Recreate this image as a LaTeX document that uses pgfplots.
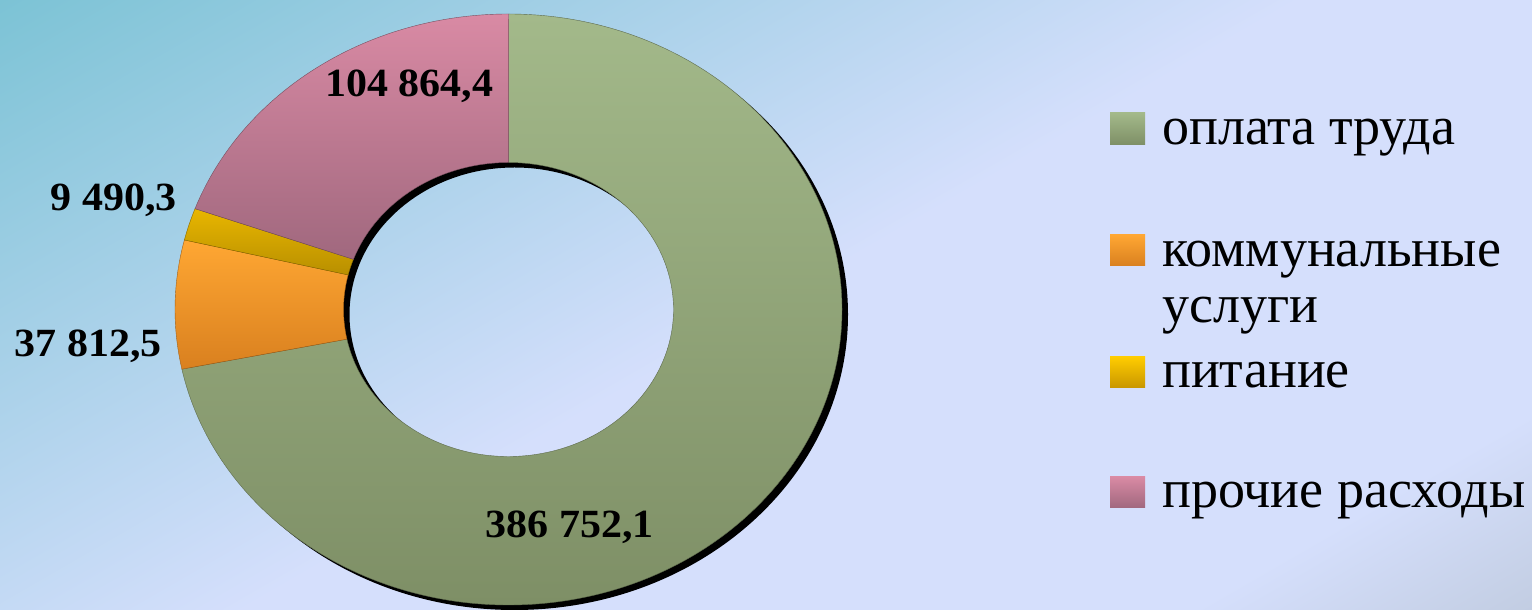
\documentclass[border=0pt]{standalone}
\usepackage{pgfplots}
\pgfplotsset{compat=1.18}
\usepackage{pgfplotstable}
\usepackage{fontspec}
\setmainfont{Liberation Serif}

\pgfplotstableread{
name value
opl 386752.1
kom 37812.5
pit 9490.3
pro 104864.4
}\datatable

\pgfplotstablegetelem{0}{value}\of\datatable \edef\vA{\pgfplotsretval}
\pgfplotstablegetelem{1}{value}\of\datatable \edef\vB{\pgfplotsretval}
\pgfplotstablegetelem{2}{value}\of\datatable \edef\vC{\pgfplotsretval}
\pgfplotstablegetelem{3}{value}\of\datatable \edef\vD{\pgfplotsretval}
\edef\vT{\fpeval{\vA+\vB+\vC+\vD}}
\edef\aA{\fpeval{90-360*\vA/\vT}}
\edef\aB{\fpeval{\aA-360*\vB/\vT}}
\edef\aC{\fpeval{\aB-360*\vC/\vT}}
\edef\aD{\fpeval{\aC-360*\vD/\vT}}

\def\cx{508.5}
\def\cy{300.5}
\def\oRx{333.5}
\def\oRy{295.5}
\def\iRx{165}
\def\iRy{147}

\definecolor{lav}{HTML}{D5DFFC}
\definecolor{teal1}{HTML}{7CC3D5}
\definecolor{greyc}{HTML}{C2CDE2}
\definecolor{gT}{HTML}{A3B98A}\definecolor{gB}{HTML}{7E8F66}
\definecolor{oT}{HTML}{FFA733}\definecolor{oB}{HTML}{D9801F}
\definecolor{yT}{HTML}{E8B600}\definecolor{yB}{HTML}{B88F00}
\definecolor{pT}{HTML}{D98AA4}\definecolor{pB}{HTML}{A0687E}
\definecolor{ylT}{HTML}{FFCC00}\definecolor{ylB}{HTML}{C89600}

\newcommand\donutslice[4]{%
  \shade[top color=#3, bottom color=#4, draw=#4!75!black, line width=0.4pt]
   ([shift={(#1:\oRx pt and \oRy pt)}]axis cs:\cx,\cy)
   arc[start angle=#1, end angle=#2, x radius=\oRx pt, y radius=\oRy pt]
   -- ([shift={(#2:\iRx pt and \iRy pt)}]axis cs:\cx,\cy)
   arc[start angle=#2, end angle=#1, x radius=\iRx pt, y radius=\iRy pt]
   -- cycle;}

\begin{document}
\begin{tikzpicture}[x=1pt,y=1pt]
  % background
  \fill[lav] (0,0) rectangle (1532,610);
  \begin{scope}
    \clip (0,0) rectangle (1532,610);
    \begin{scope}[transform canvas={shift={(0pt,610pt)},rotate=30}]
      \shade[top color=teal1, bottom color=lav] (-2200,-650) rectangle (2200,0);
    \end{scope}
    \begin{scope}[transform canvas={shift={(1532pt,0pt)},rotate=30}]
      \shade[top color=lav, bottom color=greyc] (-2200,0) rectangle (2200,170);
    \end{scope}
  \end{scope}
  \begin{axis}[at={(0,0)}, anchor=south west, width=1532pt, height=610pt,
      scale only axis, xmin=0, xmax=1532, ymin=0, ymax=610,
      hide axis, clip=false]
    % shadow
    \fill[black, even odd rule, shift={(6pt,-5pt)}]
      (axis cs:\cx,\cy) ellipse [x radius=\oRx pt, y radius=\oRy pt]
      (axis cs:\cx,\cy) ellipse [x radius=\iRx pt, y radius=\iRy pt];
    \donutslice{90}{\aA}{gT}{gB}
    \donutslice{\aA}{\aB}{oT}{oB}
    \donutslice{\aB}{\aC}{yT}{yB}
    \donutslice{\aC}{\aD}{pT}{pB}
    % data labels
    \begin{scope}[every node/.style={font=\fontsize{40}{48}\selectfont\bfseries, anchor=base, inner sep=0pt, xscale=1.05}]
      \node at (axis cs:409,513) {104 864,4};
      \node at (axis cs:113.5,399) {9 490,3};
      \node at (axis cs:88.5,253) {37 812,5};
      \node at (axis cs:569.5,72) {386 752,1};
    \end{scope}
    % legend
    \shade[top color=gT, bottom color=gB] (axis cs:1110,465) rectangle (axis cs:1145,497);
    \shade[top color=oT, bottom color=oB] (axis cs:1110,344) rectangle (axis cs:1145,375);
    \shade[top color=ylT, bottom color=ylB] (axis cs:1110,222) rectangle (axis cs:1145,253);
    \shade[top color=pT, bottom color=pB] (axis cs:1110,102) rectangle (axis cs:1145,133);
    \begin{scope}[every node/.style={font=\fontsize{54}{60}\selectfont, anchor=base west, inner sep=0pt}]
      \node at (axis cs:1162,465) {оплата труда};
      \node at (axis cs:1162,343) {коммунальные};
      \node at (axis cs:1162,287) {услуги};
      \node at (axis cs:1162,222) {питание};
      \node at (axis cs:1162,102) {прочие расходы};
    \end{scope}
  \end{axis}
\end{tikzpicture}
\end{document}
